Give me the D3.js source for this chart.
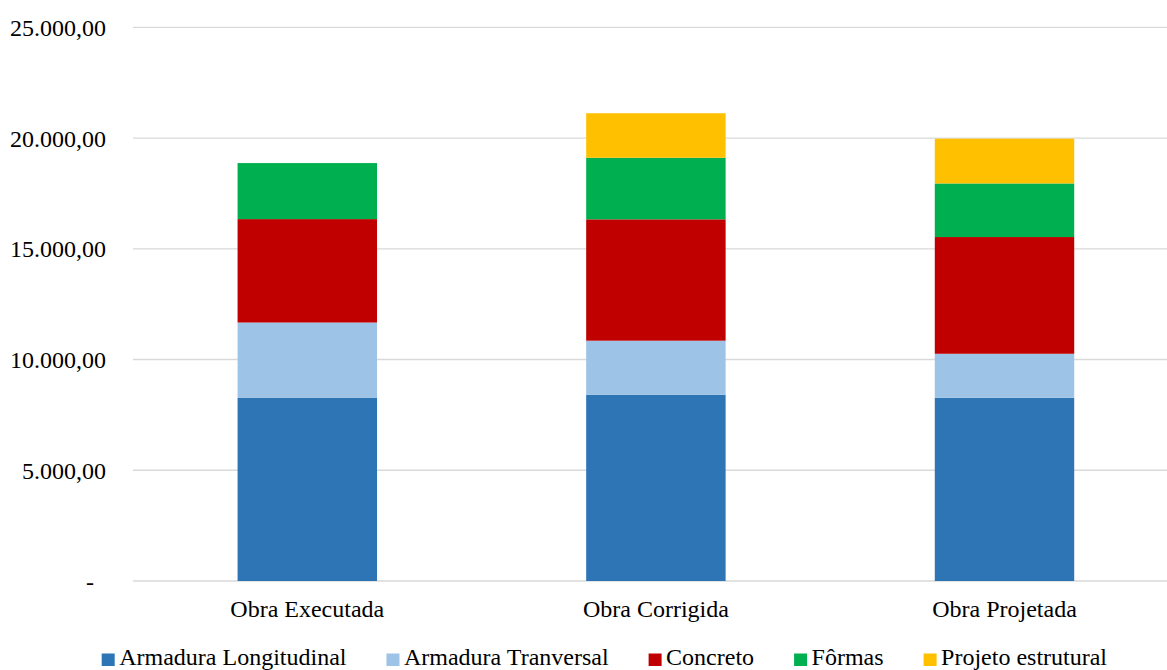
<!DOCTYPE html>
<html>
<head>
<meta charset="utf-8">
<script src="https://cdn.jsdelivr.net/npm/d3@7"></script>
<style>
  html, body { margin: 0; padding: 0; background: #fff; }
  svg { display: block; }
  svg text { font-family: "Liberation Serif", "DejaVu Serif", "Times New Roman", serif; }
</style>
</head>
<body>
<svg id="chart" width="1167" height="670"></svg>
<script>
// Categories (x axis)
const categories = ["Obra Executada", "Obra Corrigida", "Obra Projetada"];

// Stacked series, bottom to top
const seriesNames = ["Armadura Longitudinal", "Armadura Tranversal", "Concreto", "Fôrmas", "Projeto estrutural"];
const armaduraLongitudinal = [8280, 8410, 8270];
const armaduraTranversal   = [3390, 2440, 1990];
const concreto             = [4670, 5480, 5270];
const formas               = [2530, 2780, 2420];
const projetoEstrutural    = [0, 2010, 2020];
const seriesColors = ["#2e75b6", "#9dc3e6", "#c00000", "#00b050", "#ffc000"];

// Value axis ticks
const yTicks = [0, 5000, 10000, 15000, 20000, 25000];

const seriesValues = [armaduraLongitudinal, armaduraTranversal, concreto, formas, projetoEstrutural];
const rows = categories.map((c, i) => {
  const r = { category: c };
  seriesNames.forEach((s, j) => { r[s] = seriesValues[j][i]; });
  return r;
});

const svg = d3.select("#chart");
const serif = "'Liberation Serif', 'DejaVu Serif', 'Times New Roman', serif";
const plotLeft = 133, plotRight = 1167, plotTop = 27.3, plotBottom = 581;

const y = d3.scaleLinear().domain([0, 25000]).range([plotBottom, plotTop]);
const x = d3.scaleBand().domain(categories)
  .range([plotLeft, plotLeft + 3 * 348.6])
  .paddingInner(0.6).paddingOuter(0.3);

const ptBR = d3.formatLocale({ decimal: ",", thousands: ".", grouping: [3], currency: ["R$", ""] });
const fmt = ptBR.format(",.2f");

// Horizontal gridlines
svg.append("g")
  .selectAll("line")
  .data(yTicks)
  .join("line")
  .attr("x1", plotLeft).attr("x2", plotRight)
  .attr("y1", d => y(d)).attr("y2", d => y(d))
  .attr("stroke", "#d9d9d9").attr("stroke-width", 1.3);

// Tick labels (zero shown as a dash)
svg.append("g")
  .selectAll("text")
  .data(yTicks)
  .join("text")
  .attr("x", d => d === 0 ? 94 : 106)
  .attr("y", d => y(d))
  .attr("dy", "0.36em")
  .attr("text-anchor", "end")
  .attr("font-family", serif)
  .attr("font-size", 24)
  .attr("fill", "#000")
  .text(d => d === 0 ? "-" : fmt(d));

// Stacked bars
const stack = d3.stack().keys(seriesNames)(rows);
svg.append("g")
  .selectAll("g")
  .data(stack)
  .join("g")
  .attr("fill", (d, i) => seriesColors[i])
  .selectAll("rect")
  .data(d => d)
  .join("rect")
  .attr("x", d => x(d.data.category))
  .attr("width", x.bandwidth())
  .attr("y", d => y(d[1]))
  .attr("height", d => y(d[0]) - y(d[1]));

// Category labels
svg.append("g")
  .selectAll("text")
  .data(categories)
  .join("text")
  .attr("x", d => x(d) + x.bandwidth() / 2)
  .attr("y", 616.7)
  .attr("text-anchor", "middle")
  .attr("font-family", serif)
  .attr("font-size", 24)
  .attr("fill", "#000")
  .text(d => d);

// Legend
const legend = svg.append("g");
let lx = 101.7;
seriesNames.forEach((name, i) => {
  legend.append("rect")
    .attr("x", lx).attr("y", 653.5)
    .attr("width", 13).attr("height", 12.5)
    .attr("fill", seriesColors[i]);
  const t = legend.append("text")
    .attr("x", lx + 17.5).attr("y", 664.5)
    .attr("font-family", serif)
    .attr("font-size", 24)
    .attr("fill", "#000")
    .text(name);
  const w = t.node().getComputedTextLength();
  lx += 17.5 + w + 40;
});
</script>
</body>
</html>
